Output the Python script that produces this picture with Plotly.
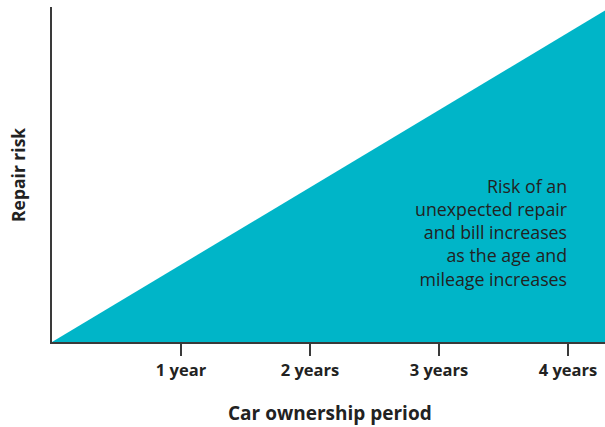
import plotly.graph_objects as go

# Data
risk_x = [0, 4.29]          # years of ownership
risk_y = [0, 0.99]          # relative repair risk
tick_years = [1, 2, 3, 4]
tick_labels = ["1 year", "2 years", "3 years", "4 years"]
note = "Risk of an<br>unexpected repair<br>and bill increases<br>as the age and<br>mileage increases"

TEAL = "#00B5C8"
DARK = "#3a3a3a"
TXT = "#222222"
FONT = "Open Sans"

fig = go.Figure()
fig.add_trace(go.Scatter(x=risk_x, y=risk_y, mode="lines", fill="tozeroy",
                         fillcolor=TEAL, line=dict(width=0, color=TEAL),
                         hoverinfo="skip", showlegend=False))

fig.update_layout(
    width=605, height=427,
    margin=dict(l=52, r=0, t=7, b=85),
    paper_bgcolor="white", plot_bgcolor="white",
    font=dict(family=FONT, color=TXT),
    xaxis=dict(range=[0, 4.287], showgrid=False, zeroline=False,
               showline=True, linecolor=DARK, linewidth=2,
               tickmode="array", tickvals=tick_years, ticktext=tick_labels,
               ticks="outside", ticklen=12, tickwidth=2, tickcolor=DARK,
               tickfont=dict(family=FONT, size=16.5, color=TXT, weight="bold")),
    yaxis=dict(range=[0, 1], showgrid=False, zeroline=False,
               showline=True, linecolor=DARK, linewidth=2,
               showticklabels=False, ticks=""),
    annotations=[
        dict(text=note, xref="paper", yref="paper", x=(569 - 52) / 553, y=(342 - 172) / 335,
             xanchor="right", yanchor="top", align="right", showarrow=False,
             font=dict(family=FONT, size=17.8, color=TXT)),
        dict(text="<b>Car ownership period</b>", xref="paper", yref="paper",
             x=(330 - 52) / 553, y=(342 - 413) / 335, xanchor="center", yanchor="middle",
             showarrow=False, font=dict(family=FONT, size=19, color=TXT)),
        dict(text="<b>Repair risk</b>", xref="paper", yref="paper",
             x=(18 - 52) / 553, y=(342 - 175) / 335, xanchor="center", yanchor="middle",
             textangle=-90, showarrow=False, font=dict(family=FONT, size=17.5, color=TXT)),
    ],
)

fig.write_html("out.html", config={"displayModeBar": False},
               post_script="document.body.style.margin='0';")
